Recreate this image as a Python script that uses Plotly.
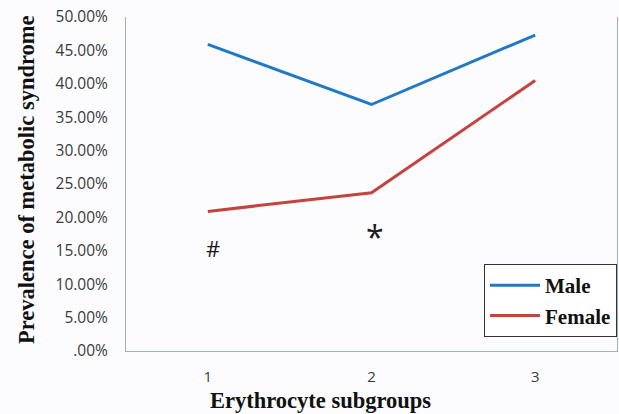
import plotly.graph_objects as go

categories = ["1", "2", "3"]
male = [45.9, 36.9, 47.3]
female = [20.9, 23.7, 40.5]
y_tickvals = [0, 5, 10, 15, 20, 25, 30, 35, 40, 45, 50]
y_ticktext = [".00%", "5.00%", "10.00%", "15.00%", "20.00%", "25.00%",
              "30.00%", "35.00%", "40.00%", "45.00%", "50.00%"]

serif = "Liberation Serif, Times New Roman, serif"
sans = "Open Sans, DejaVu Sans, sans-serif"

fig = go.Figure()
fig.add_trace(go.Scatter(x=categories, y=male, mode="lines", name="<b>Male</b>",
                         line=dict(color="#2079c7", width=3)))
fig.add_trace(go.Scatter(x=categories, y=female, mode="lines", name="<b>Female</b>",
                         line=dict(color="#c4433f", width=3)))

fig.add_annotation(x=0, y=15.4, text="#", showarrow=False, xshift=5,
                   font=dict(family=sans, size=22, color="#1a1a1a"))
fig.add_annotation(x=1, y=18.4, text="*", showarrow=False, xshift=3, yshift=-8,
                   font=dict(family=sans, size=32, color="#1a1a1a"))
fig.add_annotation(xref="paper", yref="paper", x=(320 - 126) / 491, y=-(400 - 351) / 334,
                   text="<b>Erythrocyte subgroups</b>", showarrow=False,
                   xanchor="center", yanchor="middle",
                   font=dict(family=serif, size=22.5, color="#111111"))
fig.add_annotation(xref="paper", yref="paper", x=-(126 - 26) / 491, y=(351 - 180) / 334,
                   text="<b>Prevalence of metabolic syndrome</b>", showarrow=False,
                   textangle=-90, xanchor="center", yanchor="middle",
                   font=dict(family=serif, size=22.5, color="#111111"))

fig.update_layout(
    width=619, height=414, autosize=False,
    margin=dict(l=126, r=2, t=17, b=63),
    paper_bgcolor="#fcfcfe",
    plot_bgcolor="#fcfcfe",
    showlegend=True,
    legend=dict(x=1.0, xanchor="right", y=(351 - 264) / 334, yanchor="top",
                bgcolor="#ffffff", bordercolor="#333333", borderwidth=1,
                font=dict(family=serif, size=21, color="#111111"),
                itemwidth=50, tracegroupgap=0),
    xaxis=dict(type="category", range=[-0.5, 2.5], showgrid=False, automargin=False,
               showline=True, linecolor="#9fb0bf", linewidth=1, mirror=False,
               ticks="outside", ticklen=12, tickcolor="rgba(0,0,0,0)",
               tickfont=dict(family=sans, size=15, color="#3a3a3a"),
               zeroline=False),
    yaxis=dict(range=[0, 50], tickvals=y_tickvals, ticktext=y_ticktext, automargin=False,
               showgrid=False, showline=True, linecolor="#9fb0bf", linewidth=1,
               mirror=True, ticks="outside", ticklen=14, tickcolor="rgba(0,0,0,0)",
               tickfont=dict(family=sans, size=15.5, color="#3a3a3a"),
               zeroline=False),
)

fig.write_html("out.html", config={"displayModeBar": False},
               post_script="document.body.style.margin='0';document.body.style.overflow='hidden';")
